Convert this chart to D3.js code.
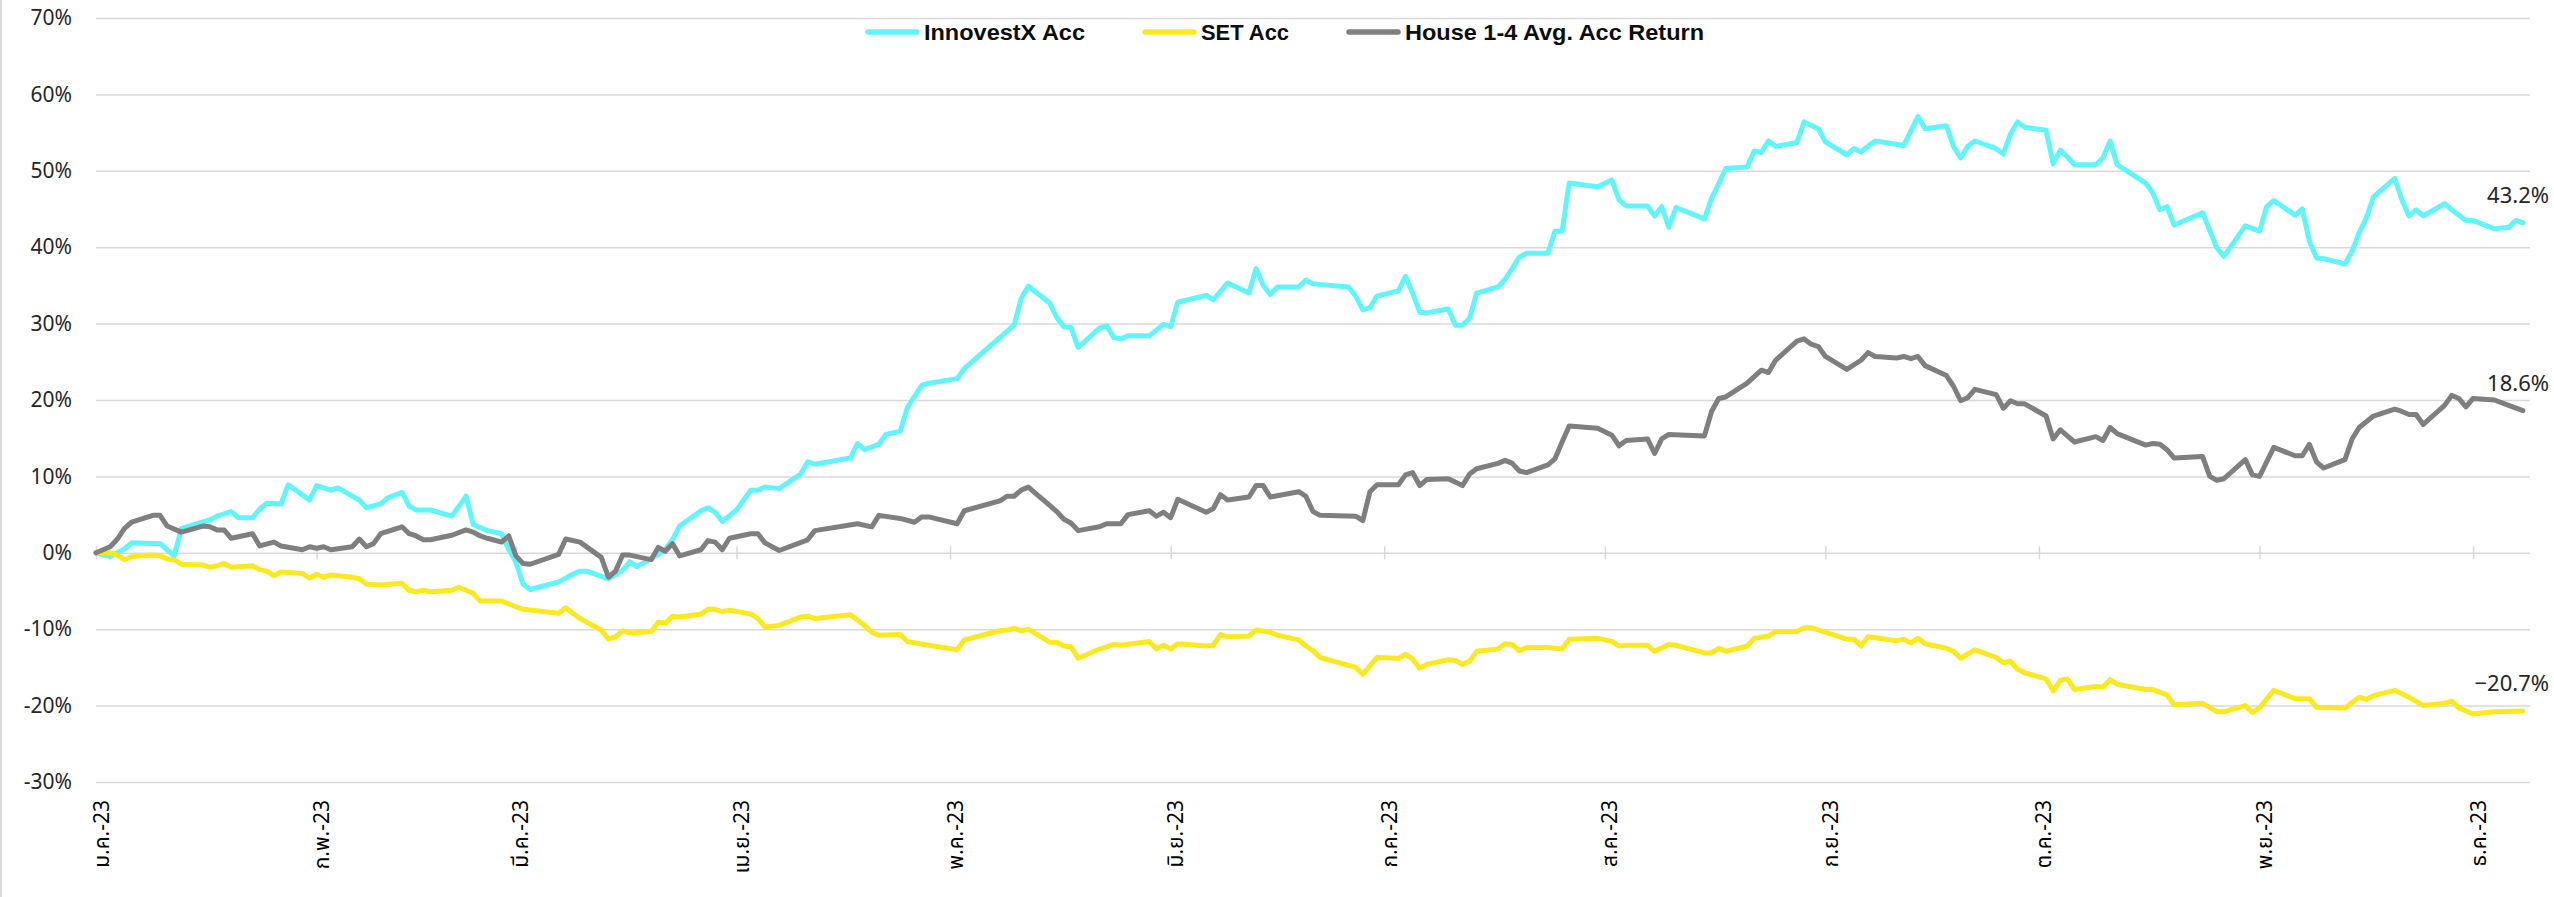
<!DOCTYPE html>
<html>
<head>
<meta charset="utf-8">
<script src="https://cdn.jsdelivr.net/npm/d3@7"></script>
<style>
  body { margin: 0; background: #fff; }
  svg { display: block; }
</style>
</head>
<body>
<svg id="chart"></svg>
<script>
// month tick labels (first day of each month, 2023)
const monthLabels = ["ม.ค.-23", "ก.พ.-23", "มี.ค.-23", "เม.ย.-23", "พ.ค.-23", "มิ.ย.-23",
  "ก.ค.-23", "ส.ค.-23", "ก.ย.-23", "ต.ค.-23", "พ.ย.-23", "ธ.ค.-23"];
const yTicks = [70, 60, 50, 40, 30, 20, 10, 0, -10, -20, -30];
const seriesNames = ["InnovestX Acc", "SET Acc", "House 1-4 Avg. Acc Return"];

// [days since 1 Jan 2023, accumulated return %]
const innovestx = [[0,0],[2,-0.5],[4,0.5],[5,1.3],[9,1.2],[11,-0.4],[12,3.2],[16,4.3],[17,4.8],[19,5.4],[20,4.6],[22,4.6],[23,5.7],[24,6.5],[26,6.4],[27,8.9],[30,6.9],[31,8.8],[33,8.2],[34,8.5],[37,6.9],[38,5.9],[40,6.4],[41,7.2],[43,7.9],[44,6.1],[45,5.6],[47,5.6],[50,4.8],[52,7.4],[53,3.7],[55,2.9],[56,2.7],[57,2.5],[58,0.4],[59,-1.2],[60,-4.1],[61,-4.8],[65,-3.8],[67,-2.8],[68,-2.4],[69,-2.4],[72,-3.4],[74,-2.3],[75,-1.2],[76,-1.8],[78,-0.8],[80,0.4],[81,1.7],[82,3.5],[85,5.5],[86,5.9],[87,5.3],[88,4.1],[90,5.6],[92,8.2],[93,8.2],[94,8.6],[96,8.4],[99,10.3],[100,11.9],[101,11.6],[106,12.4],[107,14.3],[108,13.5],[110,14.2],[111,15.5],[113,15.9],[114,19.0],[116,21.9],[117,22.2],[121,22.8],[122,24.1],[129,29.8],[130,33.3],[131,34.9],[134,32.7],[135,30.8],[136,29.6],[137,29.5],[138,26.9],[141,29.4],[142,29.7],[143,28.2],[144,28.0],[145,28.4],[148,28.4],[150,29.9],[151,29.6],[152,32.8],[156,33.7],[157,33.1],[159,35.3],[162,34.0],[163,37.2],[164,35.0],[165,33.8],[166,34.8],[169,34.8],[170,35.7],[171,35.2],[176,34.8],[177,33.6],[178,31.8],[179,32.1],[180,33.6],[183,34.3],[184,36.2],[185,34.0],[186,31.5],[187,31.4],[190,31.9],[191,29.8],[192,29.8],[193,30.7],[194,34.0],[197,34.8],[198,35.8],[200,38.7],[201,39.2],[204,39.2],[205,42.1],[206,42.1],[207,48.4],[211,47.9],[213,48.8],[214,46.2],[215,45.4],[218,45.4],[219,44.1],[220,45.3],[221,42.6],[222,45.2],[226,43.7],[227,46.4],[228,48.3],[229,50.3],[232,50.5],[233,52.6],[234,52.4],[235,53.9],[236,53.2],[239,53.7],[240,56.4],[242,55.5],[243,53.8],[246,52.1],[247,52.9],[248,52.5],[249,53.2],[250,53.9],[254,53.3],[256,57.1],[257,55.5],[260,55.9],[261,53.2],[262,51.7],[263,53.2],[264,53.9],[267,52.9],[268,52.2],[269,54.8],[270,56.4],[271,55.7],[274,55.3],[275,50.9],[276,52.7],[277,51.8],[278,50.8],[281,50.8],[282,51.7],[283,53.9],[284,50.8],[288,48.4],[289,47.1],[290,44.9],[291,45.3],[292,42.9],[296,44.5],[298,39.9],[299,38.8],[302,42.8],[304,42.1],[305,45.3],[306,46.1],[309,44.2],[310,45.0],[311,40.8],[312,38.6],[313,38.5],[316,37.8],[317,39.5],[318,41.9],[319,43.8],[320,46.6],[323,49.0],[324,46.2],[325,44.1],[326,44.9],[327,44.1],[330,45.7],[331,44.9],[333,43.5],[334,43.5],[337,42.4],[339,42.6],[340,43.5],[341,43.2]];

const setAcc = [[0,0],[2,0],[3,-0.3],[4,-0.9],[5,-0.5],[8,-0.3],[9,-0.4],[10,-0.8],[11,-0.9],[12,-1.5],[15,-1.6],[16,-1.9],[17,-1.7],[18,-1.4],[19,-1.9],[22,-1.7],[23,-2.2],[24,-2.4],[25,-3.0],[26,-2.5],[29,-2.7],[30,-3.3],[31,-2.8],[32,-3.2],[33,-2.9],[36,-3.2],[37,-3.4],[38,-4.1],[40,-4.2],[43,-4.0],[44,-4.9],[45,-5.1],[46,-4.9],[47,-5.1],[50,-4.9],[51,-4.5],[52,-4.9],[53,-5.3],[54,-6.3],[57,-6.3],[58,-6.7],[60,-7.4],[65,-7.9],[66,-7.2],[67,-7.9],[68,-8.6],[71,-10.1],[72,-11.3],[73,-11.0],[74,-10.2],[75,-10.5],[78,-10.3],[79,-9.1],[80,-9.2],[81,-8.3],[82,-8.4],[85,-8.0],[86,-7.4],[87,-7.4],[88,-7.7],[89,-7.5],[92,-8.0],[93,-8.6],[94,-9.7],[96,-9.5],[99,-8.4],[100,-8.3],[101,-8.6],[106,-8.1],[107,-8.8],[108,-9.5],[109,-10.4],[110,-10.8],[113,-10.7],[114,-11.6],[117,-12.1],[121,-12.7],[122,-11.4],[127,-10.2],[128,-10.1],[129,-9.9],[130,-10.2],[131,-10.0],[134,-11.7],[135,-11.7],[136,-12.2],[137,-12.3],[138,-13.8],[141,-12.6],[142,-12.3],[143,-12.0],[144,-12.1],[148,-11.6],[149,-12.6],[150,-12.1],[151,-12.6],[152,-11.9],[156,-12.2],[157,-12.1],[158,-10.7],[159,-11.0],[162,-10.9],[163,-10.1],[165,-10.4],[166,-10.8],[169,-11.4],[170,-12.2],[171,-12.8],[172,-13.7],[177,-15.0],[178,-15.9],[180,-13.7],[183,-13.8],[184,-13.3],[185,-13.9],[186,-15.1],[187,-14.6],[190,-14.0],[191,-14.1],[192,-14.6],[193,-14.2],[194,-12.9],[197,-12.6],[198,-11.9],[199,-12.0],[200,-12.8],[201,-12.4],[204,-12.4],[206,-12.6],[207,-11.3],[211,-11.2],[213,-11.6],[214,-12.2],[215,-12.1],[218,-12.1],[219,-12.9],[221,-12.0],[222,-12.1],[226,-13.1],[227,-13.1],[228,-12.5],[229,-12.9],[232,-12.2],[233,-11.2],[235,-10.9],[236,-10.3],[239,-10.3],[240,-9.8],[241,-9.8],[242,-10.1],[246,-11.3],[247,-11.3],[248,-12.2],[249,-11.0],[253,-11.5],[254,-11.3],[255,-11.8],[256,-11.2],[257,-11.9],[260,-12.5],[261,-12.9],[262,-13.8],[264,-12.7],[267,-13.7],[268,-14.4],[269,-14.2],[270,-15.2],[271,-15.7],[274,-16.5],[275,-18.1],[276,-16.7],[277,-16.5],[278,-17.9],[281,-17.5],[282,-17.6],[283,-16.6],[284,-17.2],[288,-17.9],[289,-17.9],[291,-18.6],[292,-19.9],[296,-19.7],[298,-20.8],[299,-20.8],[302,-20.0],[303,-20.9],[304,-20.3],[306,-18.0],[309,-19.1],[311,-19.1],[312,-20.2],[316,-20.3],[318,-18.9],[319,-19.2],[320,-18.7],[323,-18.0],[325,-18.9],[327,-20.0],[330,-19.7],[331,-19.4],[332,-20.3],[334,-21.1],[337,-20.8],[341,-20.7]];

const house = [[0,0],[2,0.8],[3,1.8],[4,3.2],[5,4.0],[8,4.9],[9,4.9],[10,3.5],[12,2.7],[15,3.5],[16,3.4],[17,3.0],[18,3.0],[19,1.9],[22,2.5],[23,0.9],[25,1.4],[26,0.9],[29,0.4],[30,0.8],[31,0.6],[32,0.8],[33,0.4],[36,0.8],[37,1.8],[38,0.8],[39,1.2],[40,2.5],[43,3.4],[44,2.5],[45,2.2],[46,1.7],[47,1.7],[50,2.3],[52,3.0],[53,2.7],[54,2.2],[55,1.9],[57,1.4],[58,2.2],[59,-0.4],[60,-1.4],[61,-1.5],[65,-0.2],[66,1.8],[68,1.4],[71,-0.6],[72,-3.2],[73,-2.4],[74,-0.3],[75,-0.3],[78,-0.9],[79,0.7],[80,0.2],[81,1.2],[82,-0.4],[85,0.4],[86,1.6],[87,1.4],[88,0.4],[89,1.9],[92,2.5],[93,2.5],[94,1.3],[96,0.3],[100,1.7],[101,2.9],[107,3.8],[109,3.4],[110,4.9],[113,4.5],[115,4.0],[116,4.7],[117,4.7],[121,3.8],[122,5.5],[127,6.8],[128,7.4],[129,7.4],[130,8.2],[131,8.6],[134,6.2],[135,5.4],[136,4.4],[137,3.9],[138,2.9],[141,3.4],[142,3.8],[144,3.8],[145,5.0],[148,5.5],[149,4.8],[150,5.3],[151,4.6],[152,7.0],[156,5.3],[157,5.8],[158,7.6],[159,6.9],[162,7.3],[163,8.8],[164,8.8],[165,7.3],[169,8.0],[170,7.4],[171,5.4],[172,4.9],[177,4.8],[178,4.2],[179,8.0],[180,8.9],[183,8.9],[184,10.2],[185,10.5],[186,8.8],[187,9.6],[190,9.7],[192,8.8],[193,10.3],[194,11.0],[197,11.7],[198,12.1],[199,11.7],[200,10.7],[201,10.5],[204,11.5],[205,12.3],[206,14.5],[207,16.6],[211,16.3],[213,15.4],[214,14.0],[215,14.7],[218,14.9],[219,13.0],[220,14.9],[221,15.5],[226,15.3],[227,18.5],[228,20.2],[229,20.4],[232,22.2],[234,23.9],[235,23.6],[236,25.2],[239,27.7],[240,28.0],[241,27.3],[242,27.0],[243,25.7],[246,24.0],[248,25.2],[249,26.2],[250,25.7],[253,25.5],[254,25.7],[255,25.4],[256,25.7],[257,24.5],[260,23.2],[261,21.8],[262,19.9],[263,20.3],[264,21.4],[267,20.7],[268,18.9],[269,19.9],[270,19.5],[271,19.5],[274,17.9],[275,14.9],[276,16.1],[277,15.3],[278,14.5],[281,15.2],[282,14.7],[283,16.4],[284,15.6],[288,14.1],[289,14.3],[290,14.2],[291,13.5],[292,12.4],[296,12.6],[297,10.0],[298,9.5],[299,9.7],[302,12.2],[303,10.2],[304,10.0],[306,13.8],[309,12.7],[310,12.7],[311,14.2],[312,11.9],[313,11.1],[316,12.2],[317,14.9],[318,16.4],[320,17.9],[323,18.8],[324,18.5],[325,18.1],[326,18.1],[327,16.8],[330,19.3],[331,20.6],[332,20.2],[333,19.1],[334,20.2],[337,20.0],[339,19.3],[341,18.6]];

const colors = ["#5ff5fa", "#fbe91f", "#7f7f7f"];
const allSeries = [innovestx, setAcc, house];

const width = 2554, height = 897;
const margin = {top: 18, right: 24, bottom: 115, left: 96};
const start = new Date(2023, 0, 1);
const toDate = d => d3.timeDay.offset(start, d);

const svg = d3.select('#chart')
  .attr('width', width)
  .attr('height', height)
  .style('font-family', '"Noto Sans", "DejaVu Sans", sans-serif');

svg.append('rect').attr('width', width).attr('height', height).attr('fill', '#fff');
// left chart-area border
svg.append('line')
  .attr('x1', 1).attr('x2', 1).attr('y1', 0).attr('y2', height)
  .attr('stroke', '#d9d9d9').attr('stroke-width', 2);

const x = d3.scaleTime()
  .domain([start, new Date(2023, 11, 9)])
  .range([margin.left, width - margin.right]);
const y = d3.scaleLinear()
  .domain([-30, 70])
  .range([height - margin.bottom, margin.top]);

// horizontal gridlines + y labels
const yAxis = svg.append('g')
  .attr('transform', `translate(${margin.left},0)`)
  .call(d3.axisLeft(y).tickValues(yTicks)
    .tickSize(-(width - margin.left - margin.right))
    .tickFormat(d => d + '%'));
yAxis.select('.domain').remove();
yAxis.selectAll('.tick line').attr('stroke', '#d9d9d9').attr('stroke-width', 1.5);
yAxis.selectAll('.tick text')
  .attr('x', -24)
  .attr('fill', '#262626')
  .style('font-size', '21px')
  .style('font-family', '"Noto Sans", sans-serif');

// month tick marks across the 0% line
const monthDates = monthLabels.map((m, i) => new Date(2023, i, 1));
const xAxis = svg.append('g')
  .attr('transform', `translate(0,${y(0) - 6.5})`)
  .call(d3.axisBottom(x).tickValues(monthDates).tickSize(13).tickFormat(''));
xAxis.select('.domain').remove();
xAxis.selectAll('.tick line').attr('stroke', '#d9d9d9').attr('stroke-width', 1.5);

// rotated month labels
svg.append('g').selectAll('text')
  .data(monthLabels)
  .join('text')
  .attr('transform', (d, i) => `translate(${x(monthDates[i]) + 6},800) rotate(-90)`)
  .attr('text-anchor', 'end')
  .attr('dominant-baseline', 'central')
  .attr('fill', '#000')
  .style('font-size', '21px')
  .style('font-family', '"Noto Sans Thai", "Noto Sans Thai Looped", Loma, "Tlwg Typo", Garuda, "Noto Sans", sans-serif')
  .text(d => d);

// series lines
const line = d3.line()
  .x(d => x(toDate(d[0])))
  .y(d => y(d[1]));

svg.append('g').selectAll('path')
  .data(allSeries)
  .join('path')
  .attr('d', line)
  .attr('fill', 'none')
  .attr('stroke', (d, i) => colors[i])
  .attr('stroke-width', 5)
  .attr('stroke-linejoin', 'round')
  .attr('stroke-linecap', 'round');

// last value labels
svg.append('g').selectAll('text')
  .data(allSeries)
  .join('text')
  .attr('x', width - 5)
  .attr('y', d => y(d[d.length - 1][1]) - 20)
  .attr('text-anchor', 'end')
  .attr('fill', '#262626')
  .style('font-size', '22px')
  .text(d => d3.format('.1f')(d[d.length - 1][1]) + '%');

// legend
const legendWidths = [161, 88, 299];
let lx = 865;
const legend = svg.append('g');
seriesNames.forEach((name, i) => {
  legend.append('line')
    .attr('x1', lx + 3).attr('x2', lx + 52)
    .attr('y1', 32).attr('y2', 32)
    .attr('stroke', colors[i]).attr('stroke-width', 5.5)
    .attr('stroke-linecap', 'round');
  legend.append('text')
    .attr('x', lx + 59).attr('y', 40)
    .attr('textLength', legendWidths[i])
    .attr('lengthAdjust', 'spacingAndGlyphs')
    .attr('fill', '#0d0d0d')
    .style('font-size', '22px')
    .style('font-weight', 'bold')
    .style('font-family', '"Liberation Sans", Arial, sans-serif')
    .text(name);
  lx += 59 + legendWidths[i] + 57;
});
</script>
</body>
</html>
